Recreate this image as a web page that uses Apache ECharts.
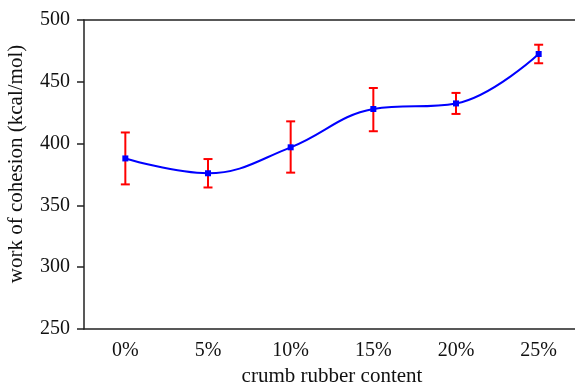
<!DOCTYPE html>
<html>
<head>
<meta charset="utf-8">
<script src="https://cdn.jsdelivr.net/npm/echarts@6/dist/echarts.min.js"></script>
<style>
    html, body { margin: 0; padding: 0; background: #fff; }
    #chart { width: 575px; height: 387px; }
</style>
</head>
<body>
<div id="chart"></div>
<script>
    // data
    var categories = ['0%', '5%', '10%', '15%', '20%', '25%'];
    var cohesion = [388, 376, 397, 428, 432.5, 472.5];
    var errLow = [367, 364.5, 376.5, 410, 424, 465];
    var errHigh = [409, 387.5, 418, 445, 441, 480];

    var font = 'Liberation Serif';
    var axisColor = '#222';

    var errData = categories.map(function (c, i) {
        return [i, errLow[i], errHigh[i]];
    });

    var myChart = echarts.init(document.getElementById('chart'));
    var option = {
        animation: false,
        grid: {
            left: 84,
            top: 20,
            width: 496,
            height: 309,
            outerBoundsMode: 'none',
            containLabel: false
        },
        // y axis title placed by hand, it sits a bit above the axis middle in the original
        graphic: [{
            type: 'text',
            x: 16,
            y: 164,
            rotation: Math.PI / 2,
            style: {
                text: 'work of cohesion (kcal/mol)',
                fontFamily: font,
                fontSize: 21,
                fill: '#111',
                align: 'center',
                verticalAlign: 'middle'
            }
        }],
        xAxis: [{
            type: 'category',
            data: categories,
            boundaryGap: true,
            name: 'crumb rubber content',
            nameLocation: 'middle',
            nameGap: 36,
            nameTextStyle: {fontFamily: font, fontSize: 21, color: '#111'},
            axisLine: {lineStyle: {color: axisColor, width: 1.5}},
            axisTick: {alignWithLabel: true, length: 7, lineStyle: {color: axisColor, width: 1.5}},
            axisLabel: {fontFamily: font, fontSize: 20, color: '#111', margin: 12},
            splitLine: {show: false}
        }, {
            type: 'category',
            data: categories,
            position: 'top',
            axisLine: {lineStyle: {color: axisColor, width: 1.5}},
            axisTick: {show: false},
            axisLabel: {show: false}
        }],
        yAxis: {
            type: 'value',
            min: 250,
            max: 500,
            interval: 50,
            axisLine: {show: true, lineStyle: {color: axisColor, width: 1.5}},
            axisTick: {show: true, length: 7, lineStyle: {color: axisColor, width: 1.5}},
            axisLabel: {fontFamily: font, fontSize: 20, color: '#111', margin: 14},
            splitLine: {show: false}
        },
        series: [
            {
                type: 'custom',
                name: 'error',
                z: 2,
                data: errData,
                renderItem: function (params, api) {
                    var lo = api.coord([api.value(0), api.value(1)]);
                    var hi = api.coord([api.value(0), api.value(2)]);
                    var half = 4.5;
                    var style = {stroke: '#ff0000', lineWidth: 2};
                    return {
                        type: 'group',
                        children: [
                            {type: 'line', shape: {x1: lo[0], y1: lo[1], x2: hi[0], y2: hi[1]}, style: style},
                            {type: 'line', shape: {x1: lo[0] - half, y1: lo[1], x2: lo[0] + half, y2: lo[1]}, style: style},
                            {type: 'line', shape: {x1: hi[0] - half, y1: hi[1], x2: hi[0] + half, y2: hi[1]}, style: style}
                        ]
                    };
                }
            },
            {
                type: 'line',
                name: 'work of cohesion',
                z: 3,
                data: cohesion,
                smooth: 0.4,
                symbol: 'rect',
                symbolSize: 6,
                itemStyle: {color: '#0000ff'},
                lineStyle: {color: '#0000ff', width: 2}
            }
        ]
    };
    myChart.setOption(option);
</script>
</body>
</html>
